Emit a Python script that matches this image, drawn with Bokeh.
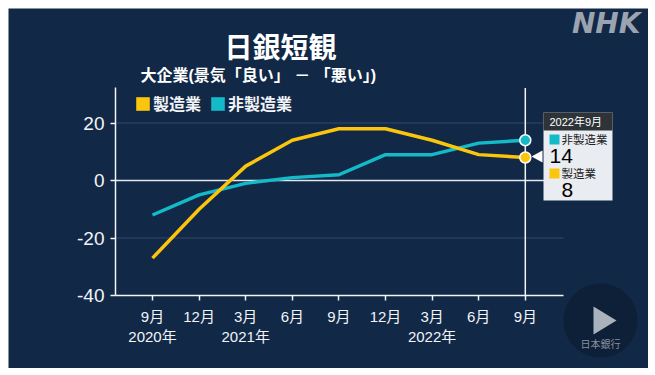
from bokeh.plotting import figure
from bokeh.embed import file_html
from bokeh.resources import INLINE
from bokeh.models import (Range1d, FixedTicker, Label, BoxAnnotation, PolyAnnotation,
                          LinearAxis, Legend, LegendItem)
import math

periods = [0, 1, 2, 3, 4, 5, 6, 7, 8]
tick_labels = ["9月\n2020年", "12月", "3月\n2021年", "6月", "9月", "12月", "3月\n2022年", "6月", "9月"]
manufacturing = [-27, -10, 5, 14, 18, 18, 14, 9, 8]
non_manufacturing = [-12, -5, -1, 1, 2, 9, 9, 13, 14]
y_ticks = [-40, -20, 0, 20]

FONT = "Liberation Sans, Noto Sans CJK JP"
BG = "#112847"
YEL = "#fbc40d"
TEAL = "#14bac8"
WHITE = "#f2f4f7"

W, H = 640, 360
XS = 46.6          # px per period
YS = 2.875         # px per index point
X_LEFT = -0.794    # axis extent
X_RIGHT = 8.82
Y_BOTTOM = -40
Y_TOP = 32.2
AX_L, AX_B = 107, 287

p = figure(width=W, height=H, output_backend="svg", toolbar_location=None,
           x_range=Range1d(X_LEFT - AX_L / XS, X_LEFT + (W - AX_L) / XS),
           y_range=Range1d(Y_BOTTOM - (H - AX_B) / YS, Y_BOTTOM + AX_B / YS),
           min_border=0, x_axis_type=None, y_axis_type=None,
           background_fill_color=BG, border_fill_color=BG, outline_line_color=None,
           margin=(8, 0, 0, 8))
p.grid.visible = False

xaxis = LinearAxis(ticker=FixedTicker(ticks=periods), fixed_location=Y_BOTTOM, bounds=(X_LEFT, X_RIGHT),
                   major_label_overrides={i: t for i, t in zip(periods, tick_labels)})
yaxis = LinearAxis(ticker=FixedTicker(ticks=y_ticks), fixed_location=X_LEFT, bounds=(Y_BOTTOM, Y_TOP),
                   major_label_overrides={t: str(t) for t in y_ticks})
for ax in (xaxis, yaxis):
    ax.axis_line_color = WHITE
    ax.axis_line_width = 1.5
    ax.major_tick_line_color = WHITE
    ax.major_tick_line_width = 1.5
    ax.major_tick_in = 0
    ax.major_tick_out = 5
    ax.minor_tick_line_color = None
    ax.major_label_text_color = WHITE
    ax.major_label_text_font = FONT
xaxis.major_label_text_font_size = "15px"
xaxis.major_label_standoff = 7
yaxis.major_label_text_font_size = "19px"
yaxis.major_label_standoff = 6
p.add_layout(xaxis, "below")
p.add_layout(yaxis, "left")

# grid lines, zero line and the marker line for the latest period
for t in (-20, 20):
    p.line([X_LEFT, X_RIGHT], [t, t], line_color="#33496a", line_width=1)
p.line([X_LEFT, X_RIGHT], [0, 0], line_color="#e4e8ee", line_width=1.5)
p.line([periods[-1], periods[-1]], [Y_BOTTOM, Y_TOP], line_color=WHITE, line_width=1.5)

p.line(periods, non_manufacturing, line_color=TEAL, line_width=3.5, line_join="round")
p.line(periods, manufacturing, line_color=YEL, line_width=3.5, line_join="round")
p.scatter(periods[-1:], non_manufacturing[-1:], size=11, fill_color=TEAL, line_color="white", line_width=1.5)
p.scatter(periods[-1:], manufacturing[-1:], size=11, fill_color=YEL, line_color="white", line_width=1.5)

# legend swatches
nan = float("nan")
r_m = p.quad(left=[nan], right=[nan], top=[nan], bottom=[nan], fill_color=YEL, line_color=None)
r_n = p.quad(left=[nan], right=[nan], top=[nan], bottom=[nan], fill_color=TEAL, line_color=None)
legend = Legend(items=[LegendItem(label="製造業", renderers=[r_m]), LegendItem(label="非製造業", renderers=[r_n])],
                orientation="horizontal", location=(126, 253), background_fill_alpha=0, border_line_color=None,
                label_text_color=WHITE, label_text_font=FONT, label_text_font_size="16px",
                label_text_font_style="bold", glyph_width=17, glyph_height=17, label_standoff=2,
                spacing=8, padding=0, margin=0, label_height=17)
p.add_layout(legend)


def label(x, y, text, size, color=WHITE, style="normal", align="left", font=FONT):
    p.add_layout(Label(x=x, y=y, x_units="canvas", y_units="canvas", text=text, text_font=font,
                       text_font_size=f"{size}px", text_color=color, text_font_style=style,
                       text_align=align, text_baseline="middle"))


def box(l, r, t, b, color):
    p.add_layout(BoxAnnotation(left=l, right=r, top=t, bottom=b, left_units="canvas", right_units="canvas",
                               top_units="canvas", bottom_units="canvas", fill_color=color, fill_alpha=1,
                               line_color=None))


def poly(xs, ys, color):
    p.add_layout(PolyAnnotation(xs=xs, ys=ys, xs_units="canvas", ys_units="canvas", fill_color=color,
                                fill_alpha=1, line_color=None))


label(272, 40, "日銀短観", 28, "white", "bold", "center")
label(132, 67, "大企業(景気「良い」 － 「悪い」)", 16, "white", "bold")
label(632, 15, "NHK", 28, "#9aa3af", "bold italic", "right", "DejaVu Sans")

# tooltip
box(535, 604, 104, 192, "#e9ecf1")
box(535, 604, 104, 122, "#2e3338")
poly([523, 534, 534], [148, 142, 154], "white")
label(541, 113, "2022年9月", 11, "white")
box(541, 551, 126, 136, TEAL)
label(553, 131, "非製造業", 11.5, "#222222")
label(541, 147, "14", 21, "black")
box(541, 551, 160, 170, YEL)
label(553, 165, "製造業", 11.5, "#222222")
label(553, 181, "8", 21, "black")

# play button
cx, cy, rad = 592, 312, 37
poly([cx + rad * math.cos(i * math.pi / 30) for i in range(60)],
     [cy + rad * math.sin(i * math.pi / 30) for i in range(60)], "#0e1f38")
poly([585, 585, 608], [298, 326, 312], "#aab2bd")
label(592, 336, "日本銀行", 10, "#87909c", "normal", "center")

open("out.html", "w").write(file_html(p, INLINE))
